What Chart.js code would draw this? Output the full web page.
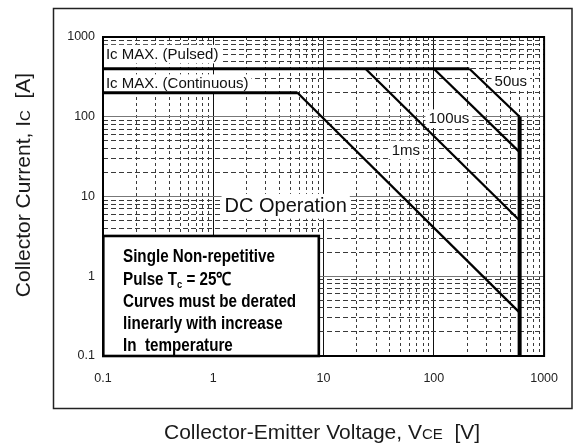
<!DOCTYPE html>
<html>
<head>
<meta charset="utf-8">
<script src="https://cdn.jsdelivr.net/npm/chart.js@4.4.1/dist/chart.umd.min.js"></script>
<style>
  html, body { margin: 0; padding: 0; background: #fff; }
  canvas { display: block; }
</style>
</head>
<body>
<canvas id="soa" width="573" height="446"></canvas>
<script>
// Forward-bias safe operating area, log-log: collector current vs collector-emitter voltage

// Axis tick labels (decades)
const voltageTicks = [0.1, 1, 10, 100, 1000];
const currentTicks = [0.1, 1, 10, 100, 1000];

// Ic MAX (pulsed) plateau
const pulsedV = [0.1, 210];
const pulsedI = [400, 400];
// Ic MAX (continuous) plateau
const contV = [0.1, 5.8];
const contI = [200, 200];
// DC operation limit
const dcV = [5.8, 600];
const dcI = [200, 0.35];
// Single-pulse limits
const ms1V = [24, 600];
const ms1I = [400, 5];
const us100V = [100, 600];
const us100I = [400, 36];
const us50V = [210, 600];
const us50I = [400, 100];
// Breakdown voltage limit
const vcesV = [600, 600];
const vcesI = [100, 0.1];

// Curve captions (placed in data coordinates)
const captions = [
  { text: 'Ic MAX. (Pulsed)',     v: 0.1063, i: 610,  align: 'left',   size: 15 },
  { text: 'Ic MAX. (Continuous)', v: 0.1063, i: 260,  align: 'left',   size: 15 },
  { text: 'DC Operation',         v: 1.265,  i: 7.54, align: 'left',   size: 20 },
  { text: '1ms',                  v: 55.8,   i: 38.3, align: 'center', size: 15 },
  { text: '100us',                v: 137,    i: 94.6, align: 'center', size: 15 },
  { text: '50us',                 v: 499,    i: 279,  align: 'center', size: 15 }
];

// Note box contents and extent (data coordinates)
const noteLines = [
  [{ t: 'Single Non-repetitive' }],
  [{ t: 'Pulse T' }, { t: 'c', sub: true }, { t: ' = 25\u2103' }],
  [{ t: 'Curves must be derated' }],
  [{ t: 'linerarly with increase' }],
  [{ t: 'In  temperature' }]
];
const noteBox = { v0: 0.1, v1: 9.0, i0: 0.1, i1: 3.2 };

const FAMILY = '"Liberation Sans", Arial, Helvetica, sans-serif';

const pts = (xs, ys) => xs.map((x, k) => ({ x: x, y: ys[k] }));
const isDecade = v => Math.abs(Math.log10(v) - Math.round(Math.log10(v))) < 1e-6;

function logGridValues(min, max) {
  const vals = [];
  for (let e = Math.round(Math.log10(min)); e < Math.round(Math.log10(max)); e++) {
    for (let k = 1; k < 10; k++) vals.push(+(k * Math.pow(10, e)).toPrecision(6));
  }
  vals.push(max);
  return vals;
}

function lineSet(label, xs, ys, width) {
  return {
    label: label,
    data: pts(xs, ys),
    showLine: true,
    borderColor: '#000',
    backgroundColor: '#000',
    borderWidth: width,
    pointRadius: 0,
    borderJoinStyle: 'miter',
    borderCapStyle: 'butt',
    tension: 0
  };
}

function drawRuns(ctx, runs, x, y, align) {
  let total = 0;
  runs.forEach(r => { ctx.font = r.font; r.w = ctx.measureText(r.t).width; total += r.w; });
  let cx = align === 'center' ? x - total / 2 : x;
  runs.forEach(r => {
    ctx.font = r.font;
    ctx.fillText(r.t, cx, y + (r.dy || 0));
    cx += r.w;
  });
}

const decorations = {
  id: 'decorations',
  beforeDraw(chart) {
    const ctx = chart.ctx;
    ctx.save();
    // outer frame
    ctx.strokeStyle = '#222';
    ctx.lineWidth = 1.5;
    ctx.strokeRect(53.5, 8.5, chart.width - 54.5, 400);
    ctx.restore();
  },
  beforeDatasetsDraw(chart) {
    // white backing behind curve captions
    const ctx = chart.ctx, xs = chart.scales.x, ys = chart.scales.y;
    ctx.save();
    ctx.fillStyle = '#fff';
    captions.forEach(c => {
      ctx.font = c.size + 'px ' + FAMILY;
      const w = ctx.measureText(c.text).width;
      const px = xs.getPixelForValue(c.v), py = ys.getPixelForValue(c.i);
      const x0 = c.align === 'center' ? px - w / 2 : px;
      const hh = c.size * 0.62;
      ctx.fillRect(x0 - 3, py - hh, w + 6, hh * 2);
    });
    ctx.restore();
  },
  afterDatasetsDraw(chart) {
    const ctx = chart.ctx, xs = chart.scales.x, ys = chart.scales.y;
    const a = chart.chartArea;
    ctx.save();

    // captions
    ctx.fillStyle = '#111';
    ctx.textBaseline = 'middle';
    captions.forEach(c => {
      ctx.font = c.size + 'px ' + FAMILY;
      ctx.textAlign = c.align;
      ctx.fillText(c.text, xs.getPixelForValue(c.v), ys.getPixelForValue(c.i) + 0.5);
    });

    // plot frame
    ctx.strokeStyle = '#000';
    ctx.lineWidth = 2;
    ctx.strokeRect(a.left, a.top, a.right - a.left, a.bottom - a.top);

    // note box
    const bx0 = xs.getPixelForValue(noteBox.v0), bx1 = xs.getPixelForValue(noteBox.v1);
    const by0 = ys.getPixelForValue(noteBox.i1), by1 = ys.getPixelForValue(noteBox.i0);
    ctx.fillStyle = '#fff';
    ctx.fillRect(bx0, by0, bx1 - bx0, by1 - by0);
    ctx.lineWidth = 2.6;
    ctx.strokeStyle = '#000';
    ctx.strokeRect(bx0 + 0.3, by0, bx1 - bx0, by1 - by0);

    ctx.fillStyle = '#000';
    ctx.textAlign = 'left';
    ctx.textBaseline = 'alphabetic';
    const noteFont = 'bold 18px ' + FAMILY;
    ctx.font = noteFont;
    const sx = 152 / ctx.measureText('Single Non-repetitive').width;
    noteLines.forEach((line, k) => {
      ctx.save();
      ctx.translate(bx0 + 20, by0 + 26.5 + k * 22.1);
      ctx.scale(sx, 1);
      const runs = line.map(s => s.sub
        ? { t: s.t, font: 'bold 11px ' + FAMILY, dy: 3 }
        : { t: s.t, font: noteFont });
      drawRuns(ctx, runs, 0, 0, 'left');
      ctx.restore();
    });

    // axis titles
    ctx.fillStyle = '#1a1a1a';
    const big = '21px ' + FAMILY, small = '15px ' + FAMILY;
    drawRuns(ctx, [
      { t: 'Collector-Emitter Voltage, V', font: big },
      { t: 'CE', font: small },
      { t: '  [V]', font: big }
    ], (a.left + a.right) / 2 - 1.5, 438.7, 'center');

    ctx.save();
    ctx.translate(30, 185);
    ctx.rotate(-Math.PI / 2);
    drawRuns(ctx, [
      { t: 'Collector Current, I', font: big },
      { t: 'C', font: small },
      { t: '  [A]', font: big }
    ], 0, 0, 'center');
    ctx.restore();

    ctx.restore();
  }
};

const tickFont = { family: FAMILY, size: 12.5 };

new Chart(document.getElementById('soa'), {
  type: 'scatter',
  data: {
    datasets: [
      lineSet('Ic MAX. (Pulsed)', pulsedV, pulsedI, 3),
      lineSet('Ic MAX. (Continuous)', contV, contI, 3),
      lineSet('DC Operation', dcV, dcI, 2.3),
      lineSet('1ms', ms1V, ms1I, 2.3),
      lineSet('100us', us100V, us100I, 2.3),
      lineSet('50us', us50V, us50I, 2.3),
      lineSet('VCES', vcesV, vcesI, 4)
    ]
  },
  options: {
    responsive: false,
    animation: false,
    events: [],
    layout: { padding: { left: 0, top: 37, right: 20, bottom: 0 } },
    plugins: { legend: { display: false }, tooltip: { enabled: false } },
    scales: {
      x: {
        type: 'logarithmic',
        min: 0.1,
        max: 1000,
        afterBuildTicks: s => { s.ticks = logGridValues(0.1, 1000).map(v => ({ value: v, major: isDecade(v) })); },
        afterFit: s => { s.height = 90; },
        ticks: {
          autoSkip: false,
          maxRotation: 0,
          padding: 15,
          font: tickFont,
          color: '#222',
          callback: v => voltageTicks.includes(v) ? String(v) : ''
        },
        grid: {
          drawTicks: false,
          lineWidth: 1,
          color: c => (c.tick && isDecade(c.tick.value)) ? '#111' : '#3a3a3a'
        },
        border: {
          display: false,
          dash: c => (c.tick && !isDecade(c.tick.value)) ? [3, 3] : []
        }
      },
      y: {
        type: 'logarithmic',
        min: 0.1,
        max: 1000,
        afterBuildTicks: s => { s.ticks = logGridValues(0.1, 1000).map(v => ({ value: v, major: isDecade(v) })); },
        afterFit: s => { s.width = 103; },
        ticks: {
          autoSkip: false,
          padding: 8,
          font: tickFont,
          color: '#222',
          callback: v => currentTicks.includes(v) ? String(v) : ''
        },
        grid: {
          drawTicks: false,
          lineWidth: 1,
          color: c => (c.tick && isDecade(c.tick.value)) ? '#777' : '#3a3a3a'
        },
        border: {
          display: false,
          dash: c => (c.tick && !isDecade(c.tick.value)) ? [5, 3] : []
        }
      }
    }
  },
  plugins: [decorations]
});
</script>
</body>
</html>
